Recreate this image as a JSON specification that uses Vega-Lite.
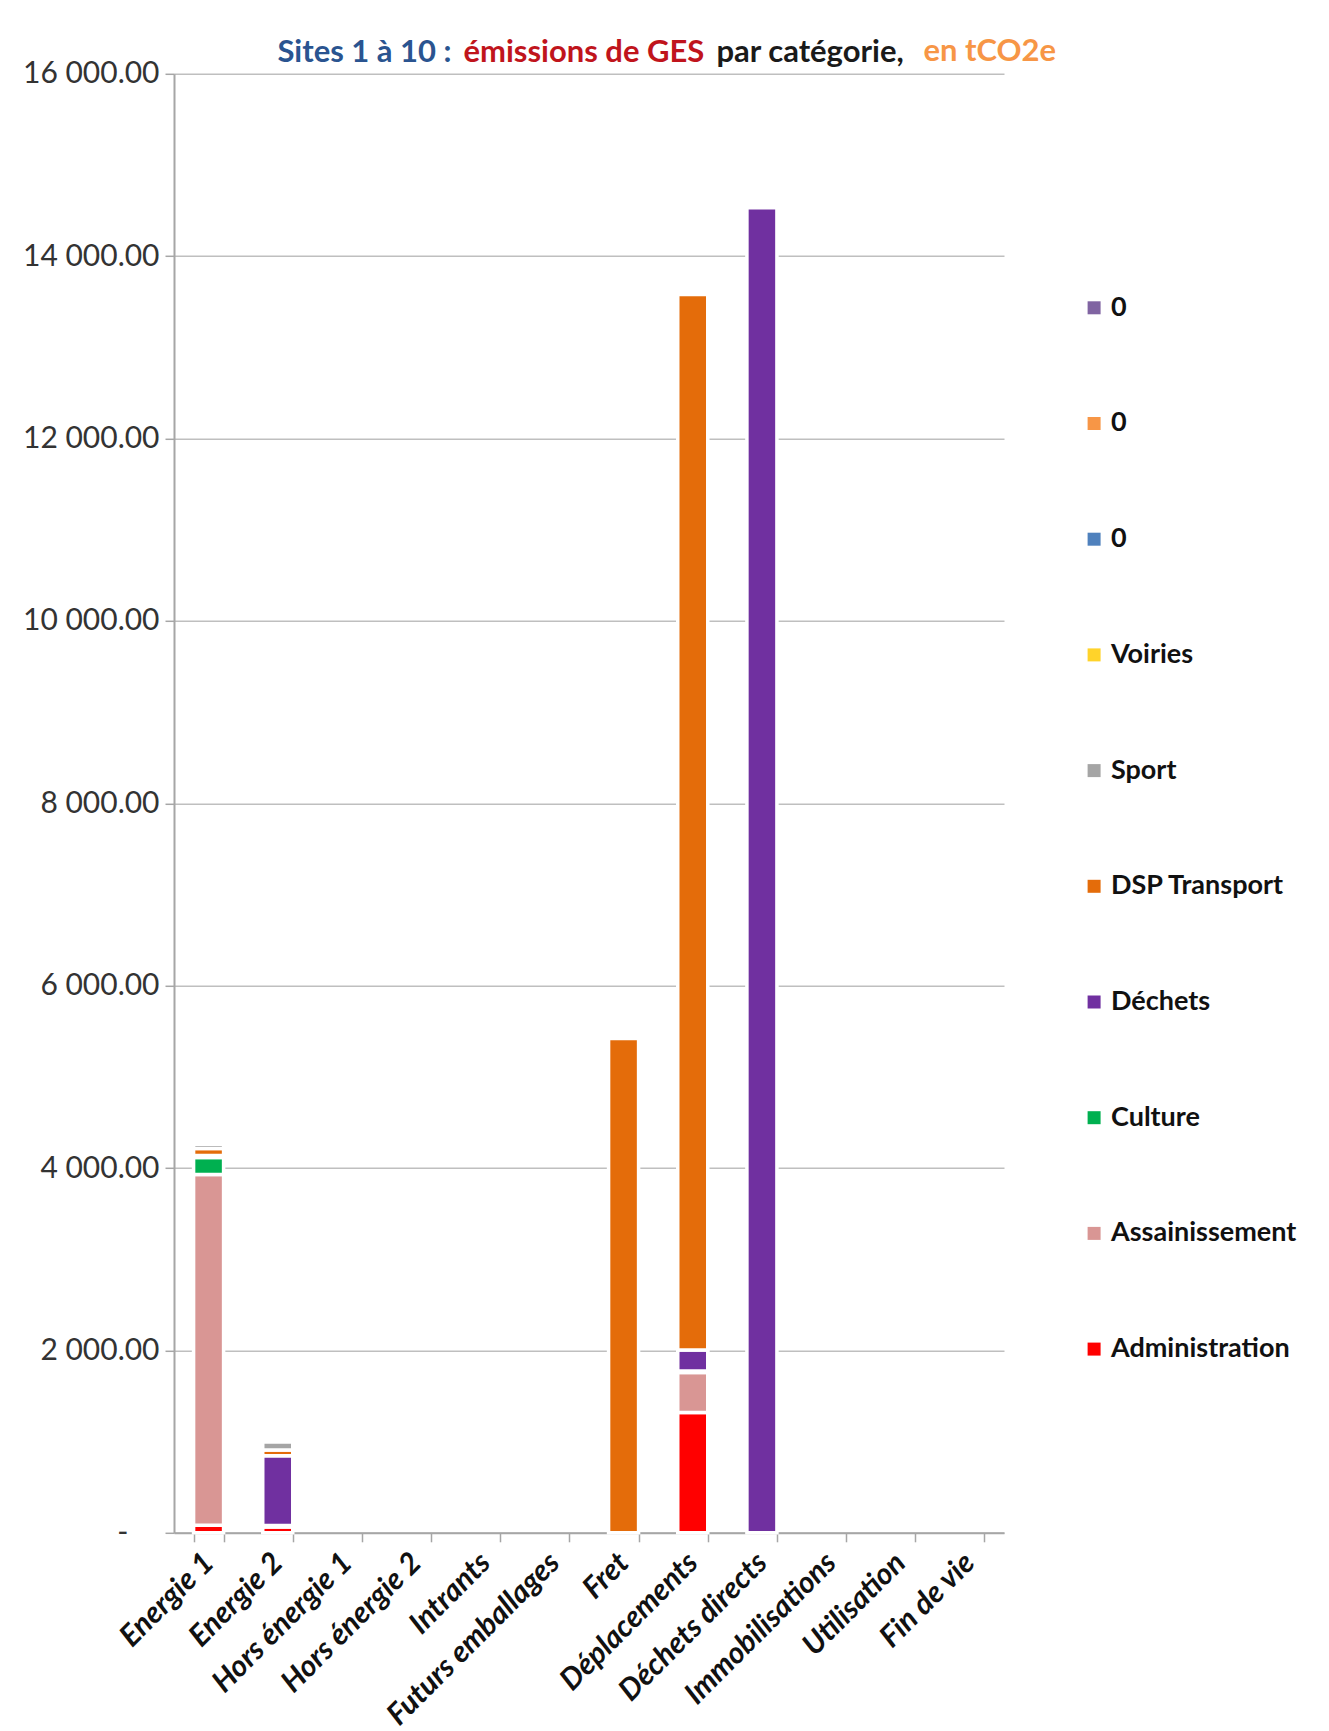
{
  "$schema": "https://vega.github.io/schema/vega-lite/v6.json",
  "background": "white",
  "padding": {"left": 22, "top": 35.8, "right": 10, "bottom": 10},
  "config": {
    "font": "Lato",
    "view": {"stroke": null},
    "title": {"font": "Lato", "fontSize": 31, "fontWeight": "bold", "anchor": "start", "frame": "bounds", "baseline": "alphabetic"}
  },
  "title": {"text": "Sites 1 à 10 :", "color": "#2A5490", "dx": 255, "offset": -32.7},
  "vconcat": [
    {
      "title": {"text": "émissions de GES", "color": "#C0141C", "dx": 441, "offset": -32.7},
      "vconcat": [
        {
          "title": {"text": "par catégorie,", "color": "#1A1A1A", "dx": 694, "offset": -32.7},
          "vconcat": [
            {
              "title": {"text": "en tCO2e", "color": "#F79646", "dx": 901, "offset": -9.2},
              "width": 830,
              "height": 1459,
              "data": {
                "values": [
                  {"cat": "Energie 1", "series": "Administration", "k": 1, "value": 82},
                  {"cat": "Energie 1", "series": "Assainissement", "k": 2, "value": 3846},
                  {"cat": "Energie 1", "series": "Culture", "k": 3, "value": 189},
                  {"cat": "Energie 1", "series": "Déchets", "k": 4, "value": 20},
                  {"cat": "Energie 1", "series": "DSP Transport", "k": 5, "value": 76},
                  {"cat": "Energie 1", "series": "Sport", "k": 6, "value": 47},
                  {"cat": "Energie 2", "series": "Administration", "k": 1, "value": 63},
                  {"cat": "Energie 2", "series": "Assainissement", "k": 2, "value": 17},
                  {"cat": "Energie 2", "series": "Déchets", "k": 4, "value": 765},
                  {"cat": "Energie 2", "series": "DSP Transport", "k": 5, "value": 62},
                  {"cat": "Energie 2", "series": "Sport", "k": 6, "value": 88},
                  {"cat": "Fret", "series": "DSP Transport", "k": 5, "value": 5420},
                  {"cat": "Déplacements", "series": "Administration", "k": 1, "value": 1318},
                  {"cat": "Déplacements", "series": "Assainissement", "k": 2, "value": 439},
                  {"cat": "Déplacements", "series": "Culture", "k": 3, "value": 16},
                  {"cat": "Déplacements", "series": "Déchets", "k": 4, "value": 232},
                  {"cat": "Déplacements", "series": "DSP Transport", "k": 5, "value": 11575},
                  {"cat": "Déchets directs", "series": "Déchets", "k": 4, "value": 14530}
                ]
              },
              "mark": {"type": "bar", "stroke": "white", "strokeWidth": 3.5},
              "encoding": {
                "x": {
                  "field": "cat",
                  "type": "nominal",
                  "scale": {
                    "domain": ["Energie 1", "Energie 2", "Hors énergie 1", "Hors énergie 2", "Intrants", "Futurs emballages", "Fret", "Déplacements", "Déchets directs", "Immobilisations", "Utilisation", "Fin de vie"],
                    "paddingInner": 0.566,
                    "paddingOuter": 0.283
                  },
                  "axis": {
                    "title": null,
                    "labelAngle": -45,
                    "labelFont": "Lato",
                    "labelFontSize": 30,
                    "labelFontWeight": "bold",
                    "labelFontStyle": "italic",
                    "labelColor": "#111111",
                    "labelAlign": "right",
                    "labelBaseline": "middle",
                    "labelPadding": 16,
                    "labelLimit": 500,
                    "labelOverlap": false,
                    "tickBand": "extent",
                    "tickSize": 9,
                    "tickWidth": 1.5,
                    "tickColor": "#A6A6A6",
                    "domainColor": "#A6A6A6",
                    "domainWidth": 2,
                    "grid": false
                  }
                },
                "y": {
                  "field": "value",
                  "type": "quantitative",
                  "stack": "zero",
                  "scale": {"domain": [0, 16000], "nice": false},
                  "axis": {
                    "title": null,
                    "values": [0, 2000, 4000, 6000, 8000, 10000, 12000, 14000, 16000],
                    "labelExpr": "datum.value == 0 ? '-' : replace(format(datum.value, ',.2f'), ',', ' ')",
                    "labelFont": "Lato",
                    "labelFontSize": 30,
                    "labelColor": "#333333",
                    "labelPadding": {"condition": {"test": "datum.value == 0", "value": 37}, "value": 6},
                    "grid": true,
                    "gridColor": "#BFBFBF",
                    "gridWidth": 1.5,
                    "domainColor": "#A6A6A6",
                    "domainWidth": 2,
                    "tickColor": "#A6A6A6",
                    "tickSize": 9,
                    "tickWidth": 1.5
                  }
                },
                "color": {
                  "field": "series",
                  "type": "nominal",
                  "scale": {
                    "domain": ["0_c", "0_b", "0_a", "Voiries", "Sport", "DSP Transport", "Déchets", "Culture", "Assainissement", "Administration"],
                    "range": ["#8064A2", "#F79646", "#4F81BD", "#FFD32A", "#A5A5A5", "#E46C0A", "#7030A0", "#00B050", "#D99694", "#FF0000"]
                  },
                  "legend": {
                    "title": null,
                    "orient": "none",
                    "legendX": 906.6,
                    "legendY": 220.5,
                    "padding": 0,
                    "symbolType": "square",
                    "symbolSize": 169,
                    "symbolStrokeWidth": 0,
                    "labelFont": "Lato",
                    "labelFontSize": 27,
                    "labelFontWeight": "bold",
                    "labelColor": "#111111",
                    "labelOffset": 3.4,
                    "rowPadding": 87.7,
                    "labelLimit": 400,
                    "labelExpr": "indexof(datum.label, '0_') == 0 ? '0' : datum.label"
                  }
                },
                "order": {"field": "k", "type": "quantitative"}
              }
            }
          ]
        }
      ]
    }
  ]
}
